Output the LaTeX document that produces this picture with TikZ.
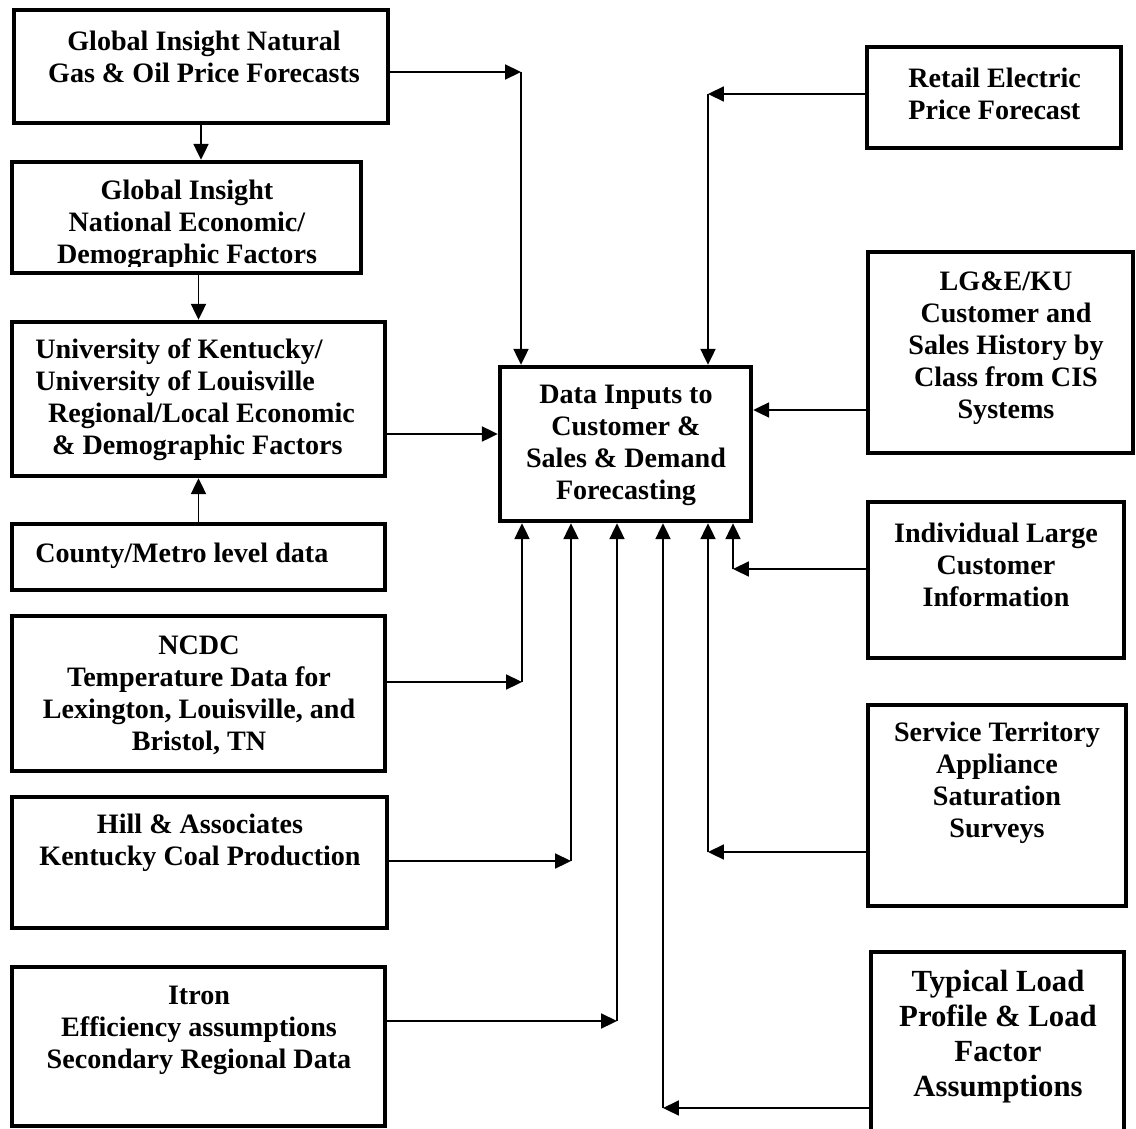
\documentclass[tikz,border=0pt]{standalone}
\usepackage{fontspec}
\setmainfont{Liberation Serif}
\usetikzlibrary{arrows.meta,fit,positioning}
\tikzset{
  box/.style={draw, line width=2.5pt, inner sep=0pt},
  txt/.style={font=\fontsize{16}{18.2}\selectfont\bfseries, align=center, inner sep=0pt},
  bigtxt/.style={txt, font=\fontsize{17.5}{19.9}\selectfont\bfseries},
  arr/.style={-{Triangle[length=9pt,width=8.5pt]}, line width=1pt}
}

\begin{document}
\begin{tikzpicture}[x=0.02cm, y=-0.02cm]
  \useasboundingbox (0,0) rectangle (1136,1129);
  % Kaesten links
  \node[box, fit={(14,10) (388,123)}] (gas) {};
  \node[txt] (gasT) at (204,57) {Global Insight Natural\\Gas \& Oil Price Forecasts};
  \node[box, fit={(12,162) (361,273)}] (nat) {};
  \begin{scope}
    \clip (12,162) rectangle (361,266);
    \node[txt] (natT) at (187,225) {Global Insight\\National Economic/\\Demographic Factors};
  \end{scope}
  \node[box, fit={(12,322) (385,476)}] (univ) {};
  \node[txt, align=left, anchor=west] (univT) at (35,400) {University of Kentucky/\\University of Louisville\\\hspace*{0.45em}Regional/Local Economic\\\hspace*{0.6em}\& Demographic Factors};
  \node[box, fit={(12,524) (385,590)}] (county) {};
  \node[txt, anchor=west] (countyT) at (35,556) {County/Metro level data};
  \node[box, fit={(12,616) (385,771)}] (ncdc) {};
  \node[txt] (ncdcT) at (199,695) {NCDC\\Temperature Data for\\Lexington, Louisville, and\\Bristol, TN};
  \node[box, fit={(12,797) (387,928)}] (hill) {};
  \node[txt] (hillT) at (200,843) {Hill \& Associates\\Kentucky Coal Production};
  \node[box, fit={(12,967) (385,1126)}] (itron) {};
  \node[txt] (itronT) at (199,1030) {Itron\\Efficiency assumptions\\Secondary Regional Data};
  % Mitte
  \node[box, fit={(500,367) (751,521)}] (data) {};
  \node[txt] (dataT) at (626,445) {Data Inputs to\\Customer \&\\Sales \& Demand\\Forecasting};
  % Kaesten rechts
  \node[box, fit={(867,47) (1121,148)}] (retail) {};
  \node[txt, align=left, anchor=west] (retailT) at (908,94) {Retail Electric\\Price Forecast};
  \node[box, fit={(868,252) (1133,453)}] (lge) {};
  \node[txt] (lgeT) at (1006,348) {LG\&E/KU\\Customer and\\Sales History by\\Class from CIS\\Systems};
  \node[box, fit={(868,502) (1124,658)}] (indiv) {};
  \node[txt] (indivT) at (996,565) {Individual Large\\Customer\\Information};
  \node[box, fit={(868,705) (1126,906)}] (serv) {};
  \node[txt] (servT) at (997,783) {Service Territory\\Appliance\\Saturation\\Surveys};
  \node[box, fit={(871,952) (1124,1145)}] (typ) {};
  \node[bigtxt] (typT) at (998,1037) {Typical Load\\Profile \& Load\\Factor\\Assumptions};
  % Knickpunkte
  \coordinate (jGas) at (521,72);
  \coordinate (jUni) at (450,434);
  \coordinate (jRet) at (708,94);
  \coordinate (jLge) at (800,410);
  \coordinate (jInd) at (733,569);
  \coordinate (jNcd) at (522,682);
  \coordinate (jHil) at (571,861);
  \coordinate (jItr) at (617,1021);
  \coordinate (jSrv) at (708,852);
  \coordinate (jTyp) at (663,1108);
  % Pfeile links
  \draw[arr] (gas.south) -- (gas.south |- nat.north);
  \draw[arr] (univ.north |- nat.south) -- (univ.north);
  \draw[arr] (county.north) -- (univ.south);
  \draw[arr] (gas.east |- jGas) -- (jGas);
  \draw[arr] (jGas) -- (jGas |- data.north);
  \draw[arr] (univ.east |- jUni) -- (data.west |- jUni);
  \draw[arr] (ncdc.east |- jNcd) -- (jNcd);
  \draw[arr] (jNcd) -- (jNcd |- data.south);
  \draw[arr] (hill.east |- jHil) -- (jHil);
  \draw[arr] (jHil) -- (jHil |- data.south);
  \draw[arr] (itron.east |- jItr) -- (jItr);
  \draw[arr] (jItr) -- (jItr |- data.south);
  % Pfeile rechts
  \draw[arr] (retail.west |- jRet) -- (jRet);
  \draw[arr] (jRet) -- (jRet |- data.north);
  \draw[arr] (lge.west |- jLge) -- (data.east |- jLge);
  \draw[arr] (indiv.west |- jInd) -- (jInd);
  \draw[arr] (jInd) -- (jInd |- data.south);
  \draw[arr] (serv.west |- jSrv) -- (jSrv);
  \draw[arr] (jSrv) -- (jSrv |- data.south);
  \draw[arr] (typ.west |- jTyp) -- (jTyp);
  \draw[arr] (jTyp) -- (jTyp |- data.south);
\end{tikzpicture}
\end{document}
